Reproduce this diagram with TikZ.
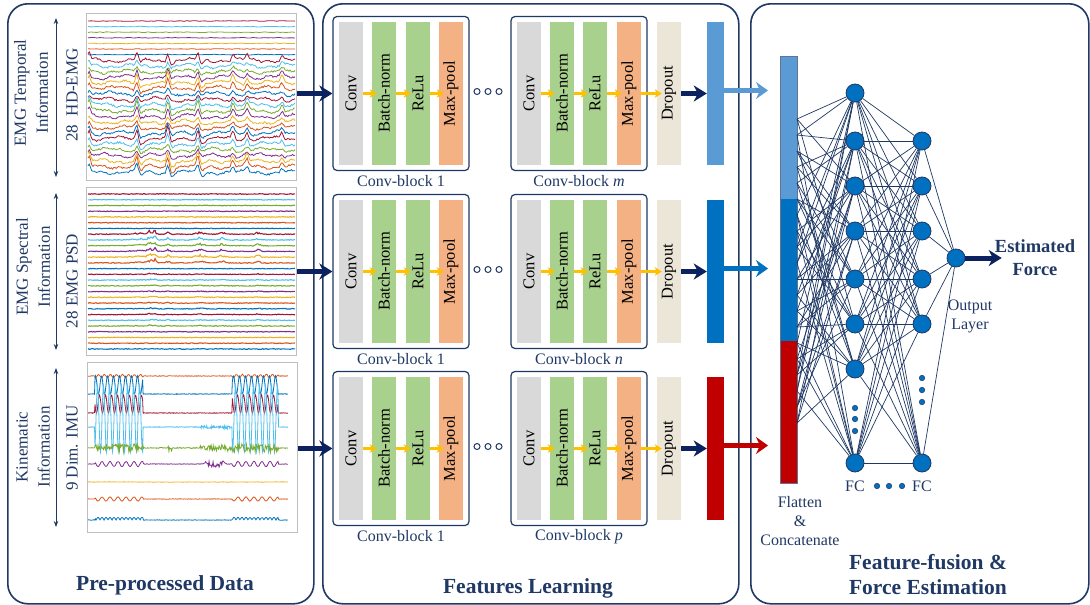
\documentclass[tikz,border=0pt]{standalone}
\usepackage{fontspec}
\usepackage{graphicx}
\setmainfont{Liberation Serif}
\usetikzlibrary{arrows.meta,calc}
\definecolor{navy}{HTML}{1F3864}
\definecolor{darrow}{HTML}{0C2260}
\definecolor{convgray}{HTML}{D9D9D9}
\definecolor{bngreen}{HTML}{A9D18E}
\definecolor{mporange}{HTML}{F4B183}
\definecolor{dropbeige}{HTML}{ECE6D8}
\definecolor{fblue1}{HTML}{5B9BD5}
\definecolor{fblue2}{HTML}{0070C0}
\definecolor{fred}{HTML}{C00000}
\definecolor{ygold}{HTML}{FFC000}
\definecolor{boxgray}{HTML}{BFBFBF}
\definecolor{sc0}{HTML}{A2142F}
\definecolor{sc1}{HTML}{4DBEEE}
\definecolor{sc2}{HTML}{77AC30}
\definecolor{sc3}{HTML}{7E2F8E}
\definecolor{sc4}{HTML}{EDB120}
\definecolor{sc5}{HTML}{D95319}
\definecolor{sc6}{HTML}{0072BD}
\begin{document}
\begin{tikzpicture}[x=1pt,y=-1pt,
  panel/.style={draw=navy, line width=1.6pt, rounded corners=20pt, anchor=north west, inner sep=0pt, minimum height=600},
  plotbox/.style={draw=boxgray, line width=0.8pt, anchor=north west, inner sep=0pt},
  blk/.style={draw=navy, line width=1.2pt, rounded corners=4pt, minimum width=136, minimum height=154, inner sep=0pt},
  layer/.style={minimum width=24, minimum height=143, inner sep=0pt, font=\fontsize{16.5}{19}\selectfont, text=black},
  fbar/.style={minimum width=17, minimum height=143, inner sep=0pt},
  captxt/.style={text=navy, font=\fontsize{16}{19}\selectfont, align=center},
  head/.style={text=navy, font=\bfseries\fontsize{21.5}{25}\selectfont, align=center},
  lab/.style={text=navy, font=\fontsize{17}{22}\selectfont, rotate=90, align=center},
  bigarrow/.style={draw=darrow, line width=5pt, -{Stealth[length=13pt,width=16pt,inset=4pt]}},
  fbarrow/.style={line width=4.5pt, -{Stealth[length=12pt,width=17pt,inset=4pt]}},
  yarrow/.style={draw=ygold, line width=2.4pt, -{Stealth[length=7pt,width=8.5pt,inset=2pt]}},
  nn/.style={circle, draw=navy, fill=fblue2, line width=0.8pt, minimum size=18, inner sep=0pt},
  ndot/.style={circle, draw=navy, fill=fblue2, line width=0.5pt, minimum size=5.5, inner sep=0pt},
  odot/.style={circle, draw=navy, fill=white, line width=1pt, minimum size=6, inner sep=0pt},
  conn/.style={draw=navy, line width=0.7pt},
  dbl/.style={draw=navy, line width=0.9pt, {Stealth[length=6pt,width=4.5pt]}-{Stealth[length=6pt,width=4.5pt]}},
  sig/.style={line width=0.8pt}]
\useasboundingbox (0,0) rectangle (1090,605);

% ---------- panels ----------
\node[panel, minimum width=306] (P1) at (7,3) {};
\node[panel, minimum width=416] (P2) at (322,3) {};
\node[panel, minimum width=338] (P3) at (750,3) {};

% ---------- plot boxes ----------
\node[plotbox, minimum width=210, minimum height=167] (plot1) at (86,13) {};
\node[plotbox, minimum width=210, minimum height=168] (plot2) at (86,187) {};
\node[plotbox, minimum width=210, minimum height=170] (plot3) at (87,362) {};

% ---------- signals: plot 1 (HD-EMG) ----------
\pgfmathsetseed{7}
\begin{scope}
\clip (plot1.north west) rectangle (plot1.south east);
\foreach \i in {0,...,27} {
  \pgfmathtruncatemacro\ci{mod(\i,7)}
  \pgfmathsetmacro\base{21+5.6*\i}
  \ifnum\i<7
    \draw[sig, draw=sc\ci] plot[domain=88:295, samples=70] (\x, {\base+0.35*rand});
  \else
    \pgfmathsetmacro\amp{7+3*sin(\i*73)}
    \draw[sig, draw=sc\ci] plot[domain=88:295, samples=170] (\x, {\base + 0.9*rand + 1.6*sin((\x-88)*7+\i*37) + 0.8*sin((\x-88)*23+\i*11)
      - \amp*(max(0,1-abs(\x-89)/3) + max(0,1-abs(\x-137)/3) + 1.2*max(0,1-abs(\x-168)/3) + max(0,1-abs(\x-198)/3)
      + 0.8*max(0,1-abs(\x-233)/3) + 0.7*max(0,1-abs(\x-247)/3) + 0.6*max(0,1-abs(\x-282)/3))
      + 0.5*\amp*(max(0,1-abs(\x-172)/5) + max(0,1-abs(\x-141)/5) + max(0,1-abs(\x-202)/5))});
  \fi
}
\end{scope}

% ---------- signals: plot 2 (PSD) ----------
\begin{scope}
\clip (plot2.north west) rectangle (plot2.south east);
\foreach \i in {0,...,27} {
  \pgfmathtruncatemacro\ci{mod(\i,7)}
  \pgfmathsetmacro\base{194+5.74*\i}
  \pgfmathsetmacro\bmp{((\i>6)*(\i<13))*5 + ((\i>13)*(\i<24))*1.2}
  \draw[line width=1.1pt, draw=sc\ci] plot[domain=88:295, samples=180] (\x, {\base + 0.35*rand
     - \bmp*(0.6+0.4*rand)*(max(0,1-abs(\x-150)/4) + max(0,1-abs(\x-155)/3) + 0.7*max(0,1-abs(\x-168)/3)
     + 0.6*max(0,1-abs(\x-200)/8) + 0.5*max(0,1-abs(\x-222)/6) + 0.6*max(0,1-abs(\x-258)/4) + 0.3*max(0,1-abs(\x-140)/15))});
}
\end{scope}

% ---------- signals: plot 3 (IMU) ----------
\def\act{((\x>95)*(\x<143)+(\x>232)*(\x<278))}
\begin{scope}
\clip (plot3.north west) rectangle (plot3.south east);
\draw[sig, draw=sc5] plot[domain=88:288, samples=300] (\x, {376 + \act*1.5*sin(60*(\x-88)) + 0.3*rand});
\draw[sig, draw=sc6] plot[domain=88:288, samples=400] (\x, {394 - \act*9*(1+sin(60*(\x-88))) + 0.3*rand});
\draw[sig, draw=sc0] plot[domain=88:288, samples=400] (\x, {413 - \act*9*(1+sin(60*(\x-88)+120)) + 0.3*rand});
\draw[sig, draw=sc1] plot[domain=88:288, samples=400] (\x, {427 + \act*(-8+33*sin(60*(\x-88)+60)) + 0.3*rand + (\x>200)*(\x<230)*1.5*rand});
\draw[sig, draw=sc2] plot[domain=88:288, samples=300] (\x, {448 + \act*4*rand + 0.5*rand + (\x>200)*(\x<232)*3*rand + (\x>168)*(\x<172)*4*rand});
\draw[sig, draw=sc3] plot[domain=88:288, samples=300] (\x, {464 + \act*2.5*sin(45*(\x-88)) + (\x>203)*(\x<226)*3*rand + 0.3*rand});
\draw[sig, draw=sc4] plot[domain=88:288, samples=100] (\x, {482 + 0.2*rand});
\draw[sig, draw=sc5] plot[domain=88:288, samples=300] (\x, {499 + \act*2*sin(45*(\x-88)) + 0.2*rand});
\draw[sig, draw=sc6] plot[domain=88:288, samples=300] (\x, {520 - \act*2.5*abs(sin(45*(\x-88))) + 0.2*rand});
\end{scope}

% ---------- left labels ----------
\node[lab] (l1) at (31,93) {EMG Temporal\\Information};
\node[lab] (l1b) at (72,95) {28\ \ HD-EMG};
\node[lab] (l2) at (33,267) {EMG Spectral\\Information};
\node[lab] (l2b) at (72,281) {28 EMG PSD};
\node[lab] (l3) at (33,447) {Kinematic\\Information};
\node[lab] (l3b) at (72,448) {9 Dim. IMU};
\coordinate (da1t) at (56,18);  \coordinate (da1b) at (56,177);
\coordinate (da2t) at (56,193); \coordinate (da2b) at (56,350);
\coordinate (da3t) at (56,368); \coordinate (da3b) at (56,527);
\draw[dbl] (da1t) -- (da1b);
\draw[dbl] (da2t) -- (da2b);
\draw[dbl] (da3t) -- (da3b);

% ---------- conv rows ----------
\foreach \r/\yc/\cl/\fc in {1/93.5/m/fblue1, 2/271.5/n/fblue2, 3/448.5/p/fred} {
  \node[blk] (blkA\r) at (401,\yc) {};
  \node[blk] (blkB\r) at (579,\yc) {};
  \node[layer, fill=convgray] (convA\r) at (351,\yc) {\rotatebox{90}{Conv}};
  \node[layer, fill=bngreen] (bnA\r) at (384,\yc) {\rotatebox{90}{Batch-norm}};
  \node[layer, fill=bngreen] (reA\r) at (418,\yc) {\rotatebox{90}{ReLu}};
  \node[layer, fill=mporange] (mpA\r) at (451,\yc) {\rotatebox{90}{Max-pool}};
  \node[layer, fill=convgray] (convB\r) at (529,\yc) {\rotatebox{90}{Conv}};
  \node[layer, fill=bngreen] (bnB\r) at (562,\yc) {\rotatebox{90}{Batch-norm}};
  \node[layer, fill=bngreen] (reB\r) at (595,\yc) {\rotatebox{90}{ReLu}};
  \node[layer, fill=mporange] (mpB\r) at (629,\yc) {\rotatebox{90}{Max-pool}};
  \node[layer, fill=dropbeige] (drop\r) at (669,\yc) {\rotatebox{90}{Dropout}};
  \node[fbar, fill=\fc] (fb\r) at (715.5,\yc) {};
  \node[captxt] (capA\r) at (401,\yc+88) {Conv-block 1};
  \node[captxt] (capB\r) at (579,\yc+88) {Conv-block \textit{\cl}};
  \node[odot] (da\r) at (477,\yc-2) {};
  \node[odot] (db\r) at (488,\yc-2) {};
  \node[odot] (dc\r) at (499,\yc-2) {};
  \draw[yarrow] (convA\r.east) -- ([xshift=5pt]bnA\r.west);
  \draw[yarrow] (bnA\r.east) -- ([xshift=5pt]reA\r.west);
  \draw[yarrow] (reA\r.east) -- ([xshift=5pt]mpA\r.west);
  \draw[yarrow] (convB\r.east) -- ([xshift=5pt]bnB\r.west);
  \draw[yarrow] (bnB\r.east) -- ([xshift=5pt]reB\r.west);
  \draw[yarrow] (reB\r.east) -- ([xshift=5pt]mpB\r.west);
  \draw[yarrow] (mpB\r.east) -- ([xshift=5pt]drop\r.west);
  \draw[bigarrow] (drop\r.east) -- (fb\r.west);
  \draw[bigarrow] (plot\r.east |- blkA\r.west) -- (blkA\r.west);
  \coordinate (tip\r) at (768,\yc-3);
  \draw[fbarrow, draw=\fc] (fb\r.east |- tip\r) -- (tip\r);
}

% ---------- concatenation bar ----------
\node[fbar, fill=fblue1, minimum height=143, anchor=north west] (cat1) at (780,56) {};
\node[fbar, fill=fblue2, minimum height=142, anchor=north west] (cat2) at (780,199) {};
\node[fbar, fill=fred, minimum height=142, anchor=north west] (cat3) at (780,341) {};
\draw[navy!70, line width=0.6pt] (cat1.north west) rectangle (cat3.south east);

% ---------- network ----------
\foreach \y [count=\i] in {93,141,186,231,279,324,369,463}
  \node[nn] (ha\i) at (855,\y) {};
\foreach \y [count=\i] in {141,186,231,279,324,463}
  \node[nn] (hb\i) at (922,\y) {};
\node[nn] (out) at (956,258) {};
\foreach \k in {0,...,19} {
  \coordinate (bp\k) at (797,119+16*\k);
  \pgfmathtruncatemacro\na{mod(\k,8)+1}
  \pgfmathtruncatemacro\nb{mod(3*\k+5,8)+1}
  \pgfmathtruncatemacro\nc{mod(5*\k+2,8)+1}
  \draw[conn] (bp\k) -- (ha\na);
  \draw[conn] (bp\k) -- (ha\nb);
  \draw[conn] (bp\k) -- (ha\nc);
}
\foreach \i in {1,...,8} {
  \foreach \j in {1,...,6} {
    \draw[conn] (ha\i) -- (hb\j);
  }
}
\foreach \j in {1,...,6} \draw[conn] (hb\j) -- (out);
\foreach \y [count=\i] in {408,419,431} \node[ndot] (dA\i) at (855,\y) {};
\foreach \y [count=\i] in {378,390,402} \node[ndot] (dB\i) at (922,\y) {};
\foreach \x [count=\i] in {877,889,902} \node[ndot] (dF\i) at (\x,486) {};

\node[captxt] (fc1) at (855,486) {FC};
\node[captxt] (fc2) at (922,486) {FC};
\node[captxt] (flat) at (800,521) {Flatten\\\&\\Concatenate};
\node[captxt] (ol) at (970,316) {Output\\Layer};
\node[text=navy, font=\bfseries\fontsize{18.5}{23}\selectfont, align=center, inner sep=0pt] (ef) at (1035,258) {Estimated\\Force};
\draw[bigarrow] (out.east) -- ([xshift=7pt]ef.west);

% ---------- headings ----------
\node[head] (h1) at (165,585) {Pre-processed Data};
\node[head] (h2) at (528,588) {Features Learning};
\node[head] (h3) at (928,575) {Feature-fusion \&\\Force Estimation};
\end{tikzpicture}
\end{document}
